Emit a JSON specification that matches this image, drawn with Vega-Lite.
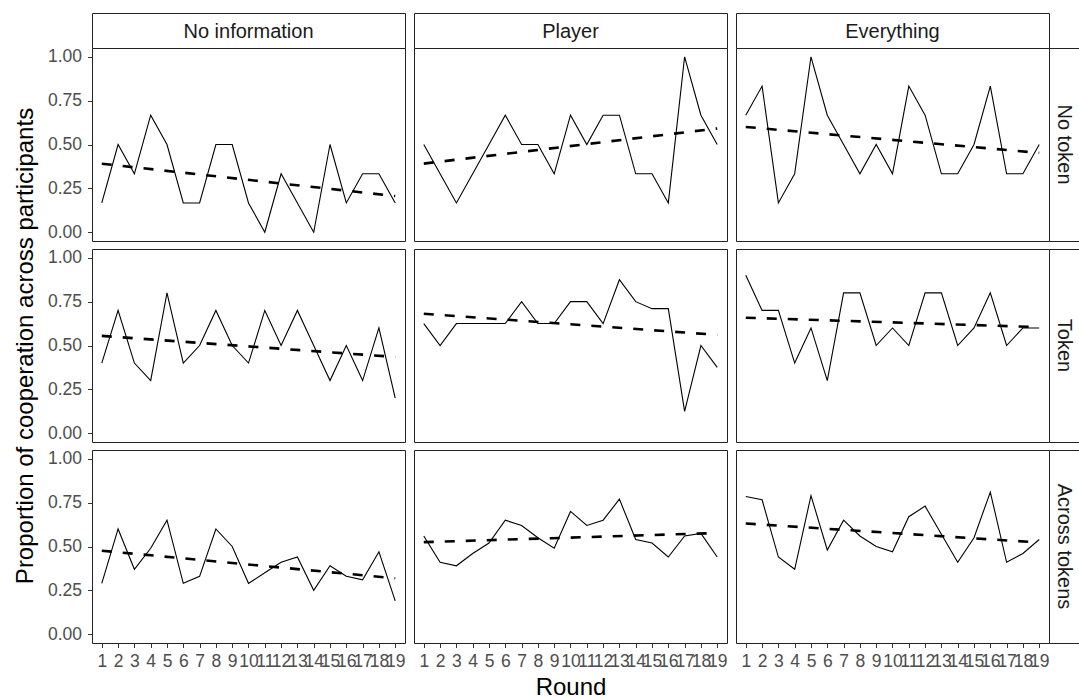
{
  "$schema": "https://vega.github.io/schema/vega-lite/v6.json",
  "background": "white",
  "padding": {"left": 12, "top": 12, "right": 0, "bottom": 0},
  "config": {
    "font": "Liberation Sans",
    "view": {"stroke": "#222222", "strokeWidth": 1, "fill": "white"},
    "axis": {
      "domain": false, "grid": false, "tickColor": "#333333", "tickSize": 4.5, "tickWidth": 1,
      "labelColor": "#4D4D4D", "labelFont": "Liberation Sans", "labelFontSize": 17.5,
      "titleFont": "Liberation Sans", "titleFontSize": 24, "titleFontWeight": "normal", "titleColor": "black"
    },
    "axisY": {"titlePadding": 10, "labelPadding": 6},
    "axisX": {"titlePadding": 5, "labelPadding": 5, "labelAngle": 0}
  },
  "datasets": {
    "coop": [
      {"info": "No information", "token": "No token", "round": 1, "value": 0.167},
      {"info": "No information", "token": "No token", "round": 2, "value": 0.5},
      {"info": "No information", "token": "No token", "round": 3, "value": 0.333},
      {"info": "No information", "token": "No token", "round": 4, "value": 0.667},
      {"info": "No information", "token": "No token", "round": 5, "value": 0.5},
      {"info": "No information", "token": "No token", "round": 6, "value": 0.167},
      {"info": "No information", "token": "No token", "round": 7, "value": 0.167},
      {"info": "No information", "token": "No token", "round": 8, "value": 0.5},
      {"info": "No information", "token": "No token", "round": 9, "value": 0.5},
      {"info": "No information", "token": "No token", "round": 10, "value": 0.167},
      {"info": "No information", "token": "No token", "round": 11, "value": 0},
      {"info": "No information", "token": "No token", "round": 12, "value": 0.333},
      {"info": "No information", "token": "No token", "round": 13, "value": 0.167},
      {"info": "No information", "token": "No token", "round": 14, "value": 0},
      {"info": "No information", "token": "No token", "round": 15, "value": 0.5},
      {"info": "No information", "token": "No token", "round": 16, "value": 0.167},
      {"info": "No information", "token": "No token", "round": 17, "value": 0.333},
      {"info": "No information", "token": "No token", "round": 18, "value": 0.333},
      {"info": "No information", "token": "No token", "round": 19, "value": 0.167},
      {"info": "Player", "token": "No token", "round": 1, "value": 0.5},
      {"info": "Player", "token": "No token", "round": 2, "value": 0.333},
      {"info": "Player", "token": "No token", "round": 3, "value": 0.167},
      {"info": "Player", "token": "No token", "round": 4, "value": 0.333},
      {"info": "Player", "token": "No token", "round": 5, "value": 0.5},
      {"info": "Player", "token": "No token", "round": 6, "value": 0.667},
      {"info": "Player", "token": "No token", "round": 7, "value": 0.5},
      {"info": "Player", "token": "No token", "round": 8, "value": 0.5},
      {"info": "Player", "token": "No token", "round": 9, "value": 0.333},
      {"info": "Player", "token": "No token", "round": 10, "value": 0.667},
      {"info": "Player", "token": "No token", "round": 11, "value": 0.5},
      {"info": "Player", "token": "No token", "round": 12, "value": 0.667},
      {"info": "Player", "token": "No token", "round": 13, "value": 0.667},
      {"info": "Player", "token": "No token", "round": 14, "value": 0.333},
      {"info": "Player", "token": "No token", "round": 15, "value": 0.333},
      {"info": "Player", "token": "No token", "round": 16, "value": 0.167},
      {"info": "Player", "token": "No token", "round": 17, "value": 1.0},
      {"info": "Player", "token": "No token", "round": 18, "value": 0.667},
      {"info": "Player", "token": "No token", "round": 19, "value": 0.5},
      {"info": "Everything", "token": "No token", "round": 1, "value": 0.667},
      {"info": "Everything", "token": "No token", "round": 2, "value": 0.833},
      {"info": "Everything", "token": "No token", "round": 3, "value": 0.167},
      {"info": "Everything", "token": "No token", "round": 4, "value": 0.333},
      {"info": "Everything", "token": "No token", "round": 5, "value": 1.0},
      {"info": "Everything", "token": "No token", "round": 6, "value": 0.667},
      {"info": "Everything", "token": "No token", "round": 7, "value": 0.5},
      {"info": "Everything", "token": "No token", "round": 8, "value": 0.333},
      {"info": "Everything", "token": "No token", "round": 9, "value": 0.5},
      {"info": "Everything", "token": "No token", "round": 10, "value": 0.333},
      {"info": "Everything", "token": "No token", "round": 11, "value": 0.833},
      {"info": "Everything", "token": "No token", "round": 12, "value": 0.667},
      {"info": "Everything", "token": "No token", "round": 13, "value": 0.333},
      {"info": "Everything", "token": "No token", "round": 14, "value": 0.333},
      {"info": "Everything", "token": "No token", "round": 15, "value": 0.5},
      {"info": "Everything", "token": "No token", "round": 16, "value": 0.833},
      {"info": "Everything", "token": "No token", "round": 17, "value": 0.333},
      {"info": "Everything", "token": "No token", "round": 18, "value": 0.333},
      {"info": "Everything", "token": "No token", "round": 19, "value": 0.5},
      {"info": "No information", "token": "Token", "round": 1, "value": 0.4},
      {"info": "No information", "token": "Token", "round": 2, "value": 0.7},
      {"info": "No information", "token": "Token", "round": 3, "value": 0.4},
      {"info": "No information", "token": "Token", "round": 4, "value": 0.3},
      {"info": "No information", "token": "Token", "round": 5, "value": 0.8},
      {"info": "No information", "token": "Token", "round": 6, "value": 0.4},
      {"info": "No information", "token": "Token", "round": 7, "value": 0.5},
      {"info": "No information", "token": "Token", "round": 8, "value": 0.7},
      {"info": "No information", "token": "Token", "round": 9, "value": 0.5},
      {"info": "No information", "token": "Token", "round": 10, "value": 0.4},
      {"info": "No information", "token": "Token", "round": 11, "value": 0.7},
      {"info": "No information", "token": "Token", "round": 12, "value": 0.5},
      {"info": "No information", "token": "Token", "round": 13, "value": 0.7},
      {"info": "No information", "token": "Token", "round": 14, "value": 0.5},
      {"info": "No information", "token": "Token", "round": 15, "value": 0.3},
      {"info": "No information", "token": "Token", "round": 16, "value": 0.5},
      {"info": "No information", "token": "Token", "round": 17, "value": 0.3},
      {"info": "No information", "token": "Token", "round": 18, "value": 0.6},
      {"info": "No information", "token": "Token", "round": 19, "value": 0.2},
      {"info": "Player", "token": "Token", "round": 1, "value": 0.625},
      {"info": "Player", "token": "Token", "round": 2, "value": 0.5},
      {"info": "Player", "token": "Token", "round": 3, "value": 0.625},
      {"info": "Player", "token": "Token", "round": 4, "value": 0.625},
      {"info": "Player", "token": "Token", "round": 5, "value": 0.625},
      {"info": "Player", "token": "Token", "round": 6, "value": 0.625},
      {"info": "Player", "token": "Token", "round": 7, "value": 0.75},
      {"info": "Player", "token": "Token", "round": 8, "value": 0.625},
      {"info": "Player", "token": "Token", "round": 9, "value": 0.625},
      {"info": "Player", "token": "Token", "round": 10, "value": 0.75},
      {"info": "Player", "token": "Token", "round": 11, "value": 0.75},
      {"info": "Player", "token": "Token", "round": 12, "value": 0.625},
      {"info": "Player", "token": "Token", "round": 13, "value": 0.875},
      {"info": "Player", "token": "Token", "round": 14, "value": 0.75},
      {"info": "Player", "token": "Token", "round": 15, "value": 0.71},
      {"info": "Player", "token": "Token", "round": 16, "value": 0.71},
      {"info": "Player", "token": "Token", "round": 17, "value": 0.125},
      {"info": "Player", "token": "Token", "round": 18, "value": 0.5},
      {"info": "Player", "token": "Token", "round": 19, "value": 0.375},
      {"info": "Everything", "token": "Token", "round": 1, "value": 0.9},
      {"info": "Everything", "token": "Token", "round": 2, "value": 0.7},
      {"info": "Everything", "token": "Token", "round": 3, "value": 0.7},
      {"info": "Everything", "token": "Token", "round": 4, "value": 0.4},
      {"info": "Everything", "token": "Token", "round": 5, "value": 0.6},
      {"info": "Everything", "token": "Token", "round": 6, "value": 0.3},
      {"info": "Everything", "token": "Token", "round": 7, "value": 0.8},
      {"info": "Everything", "token": "Token", "round": 8, "value": 0.8},
      {"info": "Everything", "token": "Token", "round": 9, "value": 0.5},
      {"info": "Everything", "token": "Token", "round": 10, "value": 0.6},
      {"info": "Everything", "token": "Token", "round": 11, "value": 0.5},
      {"info": "Everything", "token": "Token", "round": 12, "value": 0.8},
      {"info": "Everything", "token": "Token", "round": 13, "value": 0.8},
      {"info": "Everything", "token": "Token", "round": 14, "value": 0.5},
      {"info": "Everything", "token": "Token", "round": 15, "value": 0.6},
      {"info": "Everything", "token": "Token", "round": 16, "value": 0.8},
      {"info": "Everything", "token": "Token", "round": 17, "value": 0.5},
      {"info": "Everything", "token": "Token", "round": 18, "value": 0.6},
      {"info": "Everything", "token": "Token", "round": 19, "value": 0.6},
      {"info": "No information", "token": "Across tokens", "round": 1, "value": 0.29},
      {"info": "No information", "token": "Across tokens", "round": 2, "value": 0.60},
      {"info": "No information", "token": "Across tokens", "round": 3, "value": 0.37},
      {"info": "No information", "token": "Across tokens", "round": 4, "value": 0.49},
      {"info": "No information", "token": "Across tokens", "round": 5, "value": 0.65},
      {"info": "No information", "token": "Across tokens", "round": 6, "value": 0.29},
      {"info": "No information", "token": "Across tokens", "round": 7, "value": 0.33},
      {"info": "No information", "token": "Across tokens", "round": 8, "value": 0.60},
      {"info": "No information", "token": "Across tokens", "round": 9, "value": 0.50},
      {"info": "No information", "token": "Across tokens", "round": 10, "value": 0.29},
      {"info": "No information", "token": "Across tokens", "round": 11, "value": 0.35},
      {"info": "No information", "token": "Across tokens", "round": 12, "value": 0.41},
      {"info": "No information", "token": "Across tokens", "round": 13, "value": 0.44},
      {"info": "No information", "token": "Across tokens", "round": 14, "value": 0.25},
      {"info": "No information", "token": "Across tokens", "round": 15, "value": 0.39},
      {"info": "No information", "token": "Across tokens", "round": 16, "value": 0.33},
      {"info": "No information", "token": "Across tokens", "round": 17, "value": 0.31},
      {"info": "No information", "token": "Across tokens", "round": 18, "value": 0.47},
      {"info": "No information", "token": "Across tokens", "round": 19, "value": 0.19},
      {"info": "Player", "token": "Across tokens", "round": 1, "value": 0.56},
      {"info": "Player", "token": "Across tokens", "round": 2, "value": 0.41},
      {"info": "Player", "token": "Across tokens", "round": 3, "value": 0.39},
      {"info": "Player", "token": "Across tokens", "round": 4, "value": 0.46},
      {"info": "Player", "token": "Across tokens", "round": 5, "value": 0.52},
      {"info": "Player", "token": "Across tokens", "round": 6, "value": 0.65},
      {"info": "Player", "token": "Across tokens", "round": 7, "value": 0.62},
      {"info": "Player", "token": "Across tokens", "round": 8, "value": 0.55},
      {"info": "Player", "token": "Across tokens", "round": 9, "value": 0.49},
      {"info": "Player", "token": "Across tokens", "round": 10, "value": 0.70},
      {"info": "Player", "token": "Across tokens", "round": 11, "value": 0.62},
      {"info": "Player", "token": "Across tokens", "round": 12, "value": 0.65},
      {"info": "Player", "token": "Across tokens", "round": 13, "value": 0.77},
      {"info": "Player", "token": "Across tokens", "round": 14, "value": 0.54},
      {"info": "Player", "token": "Across tokens", "round": 15, "value": 0.52},
      {"info": "Player", "token": "Across tokens", "round": 16, "value": 0.44},
      {"info": "Player", "token": "Across tokens", "round": 17, "value": 0.56},
      {"info": "Player", "token": "Across tokens", "round": 18, "value": 0.575},
      {"info": "Player", "token": "Across tokens", "round": 19, "value": 0.44},
      {"info": "Everything", "token": "Across tokens", "round": 1, "value": 0.785},
      {"info": "Everything", "token": "Across tokens", "round": 2, "value": 0.766},
      {"info": "Everything", "token": "Across tokens", "round": 3, "value": 0.44},
      {"info": "Everything", "token": "Across tokens", "round": 4, "value": 0.37},
      {"info": "Everything", "token": "Across tokens", "round": 5, "value": 0.79},
      {"info": "Everything", "token": "Across tokens", "round": 6, "value": 0.48},
      {"info": "Everything", "token": "Across tokens", "round": 7, "value": 0.65},
      {"info": "Everything", "token": "Across tokens", "round": 8, "value": 0.56},
      {"info": "Everything", "token": "Across tokens", "round": 9, "value": 0.50},
      {"info": "Everything", "token": "Across tokens", "round": 10, "value": 0.47},
      {"info": "Everything", "token": "Across tokens", "round": 11, "value": 0.67},
      {"info": "Everything", "token": "Across tokens", "round": 12, "value": 0.73},
      {"info": "Everything", "token": "Across tokens", "round": 13, "value": 0.57},
      {"info": "Everything", "token": "Across tokens", "round": 14, "value": 0.41},
      {"info": "Everything", "token": "Across tokens", "round": 15, "value": 0.55},
      {"info": "Everything", "token": "Across tokens", "round": 16, "value": 0.81},
      {"info": "Everything", "token": "Across tokens", "round": 17, "value": 0.41},
      {"info": "Everything", "token": "Across tokens", "round": 18, "value": 0.46},
      {"info": "Everything", "token": "Across tokens", "round": 19, "value": 0.54}
    ],
    "strips": [
      {"label": "No information"},
      {"label": "Player"},
      {"label": "Everything"},
      {"label": "No token"},
      {"label": "Token"},
      {"label": "Across tokens"}
    ],
    "none": []
  },
  "columns": 6,
  "spacing": 0,
  "bounds": "flush",
  "align": "each",
  "concat": [
    {"width": 313, "height": 35, "data": {"name": "strips"}, "transform": [{"filter": "datum.label === 'No information'"}],
     "mark": {"type": "text", "fontSize": 20, "color": "#1A1A1A", "baseline": "middle", "align": "center", "dy": 1},
     "encoding": {"text": {"field": "label"}, "x": {"field": "label", "type": "nominal", "axis": null}, "y": {"field": "label", "type": "nominal", "axis": null}}},
    {"width": 9, "height": 1, "data": {"name": "none"}, "view": {"stroke": null, "fill": null}, "mark": {"type": "text", "text": ""}, "encoding": {}},
    {"width": 313, "height": 35, "data": {"name": "strips"}, "transform": [{"filter": "datum.label === 'Player'"}],
     "mark": {"type": "text", "fontSize": 20, "color": "#1A1A1A", "baseline": "middle", "align": "center", "dy": 1},
     "encoding": {"text": {"field": "label"}, "x": {"field": "label", "type": "nominal", "axis": null}, "y": {"field": "label", "type": "nominal", "axis": null}}},
    {"width": 9, "height": 1, "data": {"name": "none"}, "view": {"stroke": null, "fill": null}, "mark": {"type": "text", "text": ""}, "encoding": {}},
    {"width": 313, "height": 35, "data": {"name": "strips"}, "transform": [{"filter": "datum.label === 'Everything'"}],
     "mark": {"type": "text", "fontSize": 20, "color": "#1A1A1A", "baseline": "middle", "align": "center", "dy": 1},
     "encoding": {"text": {"field": "label"}, "x": {"field": "label", "type": "nominal", "axis": null}, "y": {"field": "label", "type": "nominal", "axis": null}}},
    {"width": 30, "height": 35, "data": {"name": "none"}, "view": {"stroke": null, "fill": null}, "mark": {"type": "text", "text": ""}, "encoding": {}},

    {"width": 313, "height": 193, "data": {"name": "coop"},
     "transform": [{"filter": "datum.info === 'No information' && datum.token === 'No token'"}],
     "encoding": {
       "x": {"field": "round", "type": "quantitative", "scale": {"domain": [0.4, 19.6], "nice": false, "zero": false}, "axis": null},
       "y": {"field": "value", "type": "quantitative", "scale": {"domain": [-0.05, 1.05], "nice": false, "zero": false}, "axis": {"values": [0, 0.25, 0.5, 0.75, 1], "format": ".2f", "title": null}}
     },
     "layer": [
       {"mark": {"type": "line", "color": "black", "strokeWidth": 1.1}},
       {"transform": [{"regression": "value", "on": "round", "extent": [1, 19]}], "mark": {"type": "line", "color": "black", "strokeWidth": 2.6, "strokeDash": [10, 11]}}
     ]},
    {"width": 9, "height": 1, "data": {"name": "none"}, "view": {"stroke": null, "fill": null}, "mark": {"type": "text", "text": ""}, "encoding": {}},
    {"width": 313, "height": 193, "data": {"name": "coop"},
     "transform": [{"filter": "datum.info === 'Player' && datum.token === 'No token'"}],
     "encoding": {
       "x": {"field": "round", "type": "quantitative", "scale": {"domain": [0.4, 19.6], "nice": false, "zero": false}, "axis": null},
       "y": {"field": "value", "type": "quantitative", "scale": {"domain": [-0.05, 1.05], "nice": false, "zero": false}, "axis": null}
     },
     "layer": [
       {"mark": {"type": "line", "color": "black", "strokeWidth": 1.1}},
       {"transform": [{"regression": "value", "on": "round", "extent": [1, 19]}], "mark": {"type": "line", "color": "black", "strokeWidth": 2.6, "strokeDash": [10, 11]}}
     ]},
    {"width": 9, "height": 1, "data": {"name": "none"}, "view": {"stroke": null, "fill": null}, "mark": {"type": "text", "text": ""}, "encoding": {}},
    {"width": 313, "height": 193, "data": {"name": "coop"},
     "transform": [{"filter": "datum.info === 'Everything' && datum.token === 'No token'"}],
     "encoding": {
       "x": {"field": "round", "type": "quantitative", "scale": {"domain": [0.4, 19.6], "nice": false, "zero": false}, "axis": null},
       "y": {"field": "value", "type": "quantitative", "scale": {"domain": [-0.05, 1.05], "nice": false, "zero": false}, "axis": null}
     },
     "layer": [
       {"mark": {"type": "line", "color": "black", "strokeWidth": 1.1}},
       {"transform": [{"regression": "value", "on": "round", "extent": [1, 19]}], "mark": {"type": "line", "color": "black", "strokeWidth": 2.6, "strokeDash": [10, 11]}}
     ]},
    {"width": 30, "height": 193, "data": {"name": "strips"}, "transform": [{"filter": "datum.label === 'No token'"}],
     "mark": {"type": "text", "fontSize": 20, "color": "#1A1A1A", "baseline": "middle", "align": "center", "angle": 90},
     "encoding": {"text": {"field": "label"}, "x": {"field": "label", "type": "nominal", "axis": null}, "y": {"field": "label", "type": "nominal", "axis": null}}},

    {"width": 1, "height": 8, "data": {"name": "none"}, "view": {"stroke": null, "fill": null}, "mark": {"type": "text", "text": ""}, "encoding": {}},
    {"width": 1, "height": 8, "data": {"name": "none"}, "view": {"stroke": null, "fill": null}, "mark": {"type": "text", "text": ""}, "encoding": {}},
    {"width": 1, "height": 8, "data": {"name": "none"}, "view": {"stroke": null, "fill": null}, "mark": {"type": "text", "text": ""}, "encoding": {}},
    {"width": 1, "height": 8, "data": {"name": "none"}, "view": {"stroke": null, "fill": null}, "mark": {"type": "text", "text": ""}, "encoding": {}},
    {"width": 1, "height": 8, "data": {"name": "none"}, "view": {"stroke": null, "fill": null}, "mark": {"type": "text", "text": ""}, "encoding": {}},
    {"width": 1, "height": 8, "data": {"name": "none"}, "view": {"stroke": null, "fill": null}, "mark": {"type": "text", "text": ""}, "encoding": {}},

    {"width": 313, "height": 193, "data": {"name": "coop"},
     "transform": [{"filter": "datum.info === 'No information' && datum.token === 'Token'"}],
     "encoding": {
       "x": {"field": "round", "type": "quantitative", "scale": {"domain": [0.4, 19.6], "nice": false, "zero": false}, "axis": null},
       "y": {"field": "value", "type": "quantitative", "scale": {"domain": [-0.05, 1.05], "nice": false, "zero": false}, "axis": {"values": [0, 0.25, 0.5, 0.75, 1], "format": ".2f", "title": "Proportion of cooperation across participants"}}
     },
     "layer": [
       {"mark": {"type": "line", "color": "black", "strokeWidth": 1.1}},
       {"transform": [{"regression": "value", "on": "round", "extent": [1, 19]}], "mark": {"type": "line", "color": "black", "strokeWidth": 2.6, "strokeDash": [10, 11]}}
     ]},
    {"width": 9, "height": 1, "data": {"name": "none"}, "view": {"stroke": null, "fill": null}, "mark": {"type": "text", "text": ""}, "encoding": {}},
    {"width": 313, "height": 193, "data": {"name": "coop"},
     "transform": [{"filter": "datum.info === 'Player' && datum.token === 'Token'"}],
     "encoding": {
       "x": {"field": "round", "type": "quantitative", "scale": {"domain": [0.4, 19.6], "nice": false, "zero": false}, "axis": null},
       "y": {"field": "value", "type": "quantitative", "scale": {"domain": [-0.05, 1.05], "nice": false, "zero": false}, "axis": null}
     },
     "layer": [
       {"mark": {"type": "line", "color": "black", "strokeWidth": 1.1}},
       {"transform": [{"regression": "value", "on": "round", "extent": [1, 19]}], "mark": {"type": "line", "color": "black", "strokeWidth": 2.6, "strokeDash": [10, 11]}}
     ]},
    {"width": 9, "height": 1, "data": {"name": "none"}, "view": {"stroke": null, "fill": null}, "mark": {"type": "text", "text": ""}, "encoding": {}},
    {"width": 313, "height": 193, "data": {"name": "coop"},
     "transform": [{"filter": "datum.info === 'Everything' && datum.token === 'Token'"}],
     "encoding": {
       "x": {"field": "round", "type": "quantitative", "scale": {"domain": [0.4, 19.6], "nice": false, "zero": false}, "axis": null},
       "y": {"field": "value", "type": "quantitative", "scale": {"domain": [-0.05, 1.05], "nice": false, "zero": false}, "axis": null}
     },
     "layer": [
       {"mark": {"type": "line", "color": "black", "strokeWidth": 1.1}},
       {"transform": [{"regression": "value", "on": "round", "extent": [1, 19]}], "mark": {"type": "line", "color": "black", "strokeWidth": 2.6, "strokeDash": [10, 11]}}
     ]},
    {"width": 30, "height": 193, "data": {"name": "strips"}, "transform": [{"filter": "datum.label === 'Token'"}],
     "mark": {"type": "text", "fontSize": 20, "color": "#1A1A1A", "baseline": "middle", "align": "center", "angle": 90},
     "encoding": {"text": {"field": "label"}, "x": {"field": "label", "type": "nominal", "axis": null}, "y": {"field": "label", "type": "nominal", "axis": null}}},

    {"width": 1, "height": 8, "data": {"name": "none"}, "view": {"stroke": null, "fill": null}, "mark": {"type": "text", "text": ""}, "encoding": {}},
    {"width": 1, "height": 8, "data": {"name": "none"}, "view": {"stroke": null, "fill": null}, "mark": {"type": "text", "text": ""}, "encoding": {}},
    {"width": 1, "height": 8, "data": {"name": "none"}, "view": {"stroke": null, "fill": null}, "mark": {"type": "text", "text": ""}, "encoding": {}},
    {"width": 1, "height": 8, "data": {"name": "none"}, "view": {"stroke": null, "fill": null}, "mark": {"type": "text", "text": ""}, "encoding": {}},
    {"width": 1, "height": 8, "data": {"name": "none"}, "view": {"stroke": null, "fill": null}, "mark": {"type": "text", "text": ""}, "encoding": {}},
    {"width": 1, "height": 8, "data": {"name": "none"}, "view": {"stroke": null, "fill": null}, "mark": {"type": "text", "text": ""}, "encoding": {}},

    {"width": 313, "height": 193, "data": {"name": "coop"},
     "transform": [{"filter": "datum.info === 'No information' && datum.token === 'Across tokens'"}],
     "encoding": {
       "x": {"field": "round", "type": "quantitative", "scale": {"domain": [0.4, 19.6], "nice": false, "zero": false}, "axis": {"values": [1,2,3,4,5,6,7,8,9,10,11,12,13,14,15,16,17,18,19], "format": "d", "labelOverlap": false, "labelFlush": false, "title": null}},
       "y": {"field": "value", "type": "quantitative", "scale": {"domain": [-0.05, 1.05], "nice": false, "zero": false}, "axis": {"values": [0, 0.25, 0.5, 0.75, 1], "format": ".2f", "title": null}}
     },
     "layer": [
       {"mark": {"type": "line", "color": "black", "strokeWidth": 1.1}},
       {"transform": [{"regression": "value", "on": "round", "extent": [1, 19]}], "mark": {"type": "line", "color": "black", "strokeWidth": 2.6, "strokeDash": [10, 11]}}
     ]},
    {"width": 9, "height": 1, "data": {"name": "none"}, "view": {"stroke": null, "fill": null}, "mark": {"type": "text", "text": ""}, "encoding": {}},
    {"width": 313, "height": 193, "data": {"name": "coop"},
     "transform": [{"filter": "datum.info === 'Player' && datum.token === 'Across tokens'"}],
     "encoding": {
       "x": {"field": "round", "type": "quantitative", "scale": {"domain": [0.4, 19.6], "nice": false, "zero": false}, "axis": {"values": [1,2,3,4,5,6,7,8,9,10,11,12,13,14,15,16,17,18,19], "format": "d", "labelOverlap": false, "labelFlush": false, "title": "Round"}},
       "y": {"field": "value", "type": "quantitative", "scale": {"domain": [-0.05, 1.05], "nice": false, "zero": false}, "axis": null}
     },
     "layer": [
       {"mark": {"type": "line", "color": "black", "strokeWidth": 1.1}},
       {"transform": [{"regression": "value", "on": "round", "extent": [1, 19]}], "mark": {"type": "line", "color": "black", "strokeWidth": 2.6, "strokeDash": [10, 11]}}
     ]},
    {"width": 9, "height": 1, "data": {"name": "none"}, "view": {"stroke": null, "fill": null}, "mark": {"type": "text", "text": ""}, "encoding": {}},
    {"width": 313, "height": 193, "data": {"name": "coop"},
     "transform": [{"filter": "datum.info === 'Everything' && datum.token === 'Across tokens'"}],
     "encoding": {
       "x": {"field": "round", "type": "quantitative", "scale": {"domain": [0.4, 19.6], "nice": false, "zero": false}, "axis": {"values": [1,2,3,4,5,6,7,8,9,10,11,12,13,14,15,16,17,18,19], "format": "d", "labelOverlap": false, "labelFlush": false, "title": null}},
       "y": {"field": "value", "type": "quantitative", "scale": {"domain": [-0.05, 1.05], "nice": false, "zero": false}, "axis": null}
     },
     "layer": [
       {"mark": {"type": "line", "color": "black", "strokeWidth": 1.1}},
       {"transform": [{"regression": "value", "on": "round", "extent": [1, 19]}], "mark": {"type": "line", "color": "black", "strokeWidth": 2.6, "strokeDash": [10, 11]}}
     ]},
    {"width": 30, "height": 193, "data": {"name": "strips"}, "transform": [{"filter": "datum.label === 'Across tokens'"}],
     "mark": {"type": "text", "fontSize": 20, "color": "#1A1A1A", "baseline": "middle", "align": "center", "angle": 90},
     "encoding": {"text": {"field": "label"}, "x": {"field": "label", "type": "nominal", "axis": null}, "y": {"field": "label", "type": "nominal", "axis": null}}}
  ]
}
